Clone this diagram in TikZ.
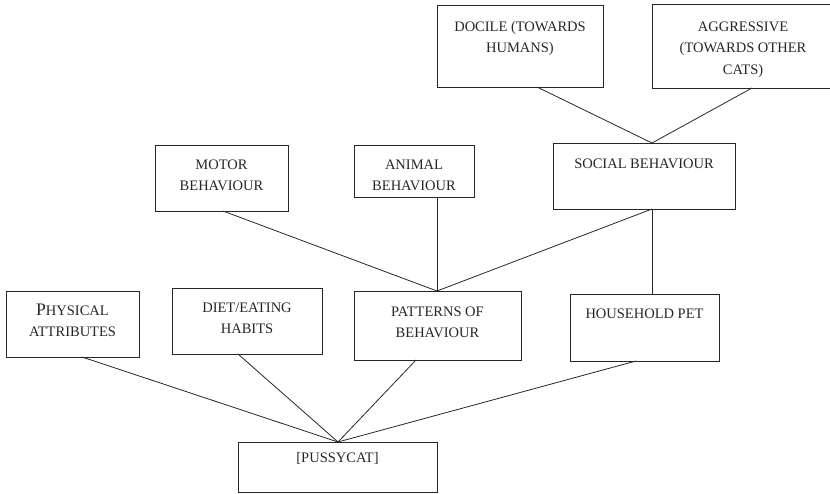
\documentclass[tikz,border=0pt]{standalone}
\usepackage{fontspec}
\setmainfont{Liberation Serif}
\begin{document}
\begin{tikzpicture}[x=1pt,y=-1pt,
  box/.style 2 args={draw=black!85, line width=0.9pt, inner sep=0pt, outer sep=0pt,
    anchor=north west, minimum width=#1pt, minimum height=#2pt},
  lbl/.style={anchor=north, inner sep=0pt, align=center, text=black!85,
    font=\fontsize{14.5}{21.5}\selectfont},
  link/.style={draw=black!85, line width=0.8pt}]
\useasboundingbox (0,0) rectangle (830,493);
\newcommand{\tp}{\rule{0pt}{12pt}}
% boxes
\node[box={133}{66}] (phys) at (6,291) {};
\node[box={150}{66}] (diet) at (172,288) {};
\node[box={167}{69}] (patt) at (354,291) {};
\node[box={149}{67}] (house) at (570,294) {};
\node[box={199}{50}] (puss) at (238,442) {};
\node[box={133}{66}] (motor) at (155,145) {};
\node[box={120}{52}] (animal) at (354,145) {};
\node[box={182}{66}] (social) at (553,143) {};
\node[box={166}{82}] (docile) at (437,5) {};
\node[box={182}{84}] (aggr) at (652,4) {};
% labels
\node[lbl] (physT) at ([yshift=-12pt]phys.north) {\tp{\fontsize{17.6}{21.5}\selectfont P}HYSICAL\\ATTRIBUTES};
\node[lbl] (dietT) at ([yshift=-12pt]diet.north) {\tp DIET/EATING\\HABITS};
\node[lbl] (pattT) at ([yshift=-13pt]patt.north) {\tp PATTERNS OF\\BEHAVIOUR};
\node[lbl] (houseT) at ([yshift=-12pt]house.north) {\tp HOUSEHOLD PET};
\node[lbl] (pussT) at ([yshift=-8pt]puss.north) {\tp [PUSSYCAT]};
\node[lbl] (motorT) at ([yshift=-12pt]motor.north) {\tp MOTOR\\BEHAVIOUR};
\node[lbl] (animalT) at ([yshift=-12pt]animal.north) {\tp ANIMAL\\BEHAVIOUR};
\node[lbl] (socialT) at ([yshift=-13pt]social.north) {\tp SOCIAL BEHAVIOUR};
\node[lbl] (docileT) at ([yshift=-14pt]docile.north) {\tp DOCILE (TOWARDS\\HUMANS)};
\node[lbl] (aggrT) at ([yshift=-15pt]aggr.north) {\tp AGGRESSIVE\\(TOWARDS OTHER\\CATS)};
% connection points
\coordinate (pussIn) at (338,442);
\coordinate (physOut) at (82,357);
\coordinate (dietOut) at (238,354);
\coordinate (pattOut) at (416,360);
\coordinate (houseOut) at (636,361);
\coordinate (pattIn) at (437,291);
\coordinate (motorOut) at (223,211);
\coordinate (animalOut) at (437,197);
\coordinate (socialOut) at (652,209);
\coordinate (houseIn) at (652,294);
\coordinate (socialIn) at (652,143);
\coordinate (docileOut) at (537,87);
\coordinate (aggrOut) at (752,88);
% connectors
\draw[link] (physOut) -- (pussIn);
\draw[link] (dietOut) -- (pussIn);
\draw[link] (pattOut) -- (pussIn);
\draw[link] (houseOut) -- (pussIn);
\draw[link] (motorOut) -- (pattIn);
\draw[link] (animalOut) -- (pattIn);
\draw[link] (socialOut) -- (pattIn);
\draw[link] (socialOut) -- (houseIn);
\draw[link] (docileOut) -- (socialIn);
\draw[link] (aggrOut) -- (socialIn);
\end{tikzpicture}
\end{document}
